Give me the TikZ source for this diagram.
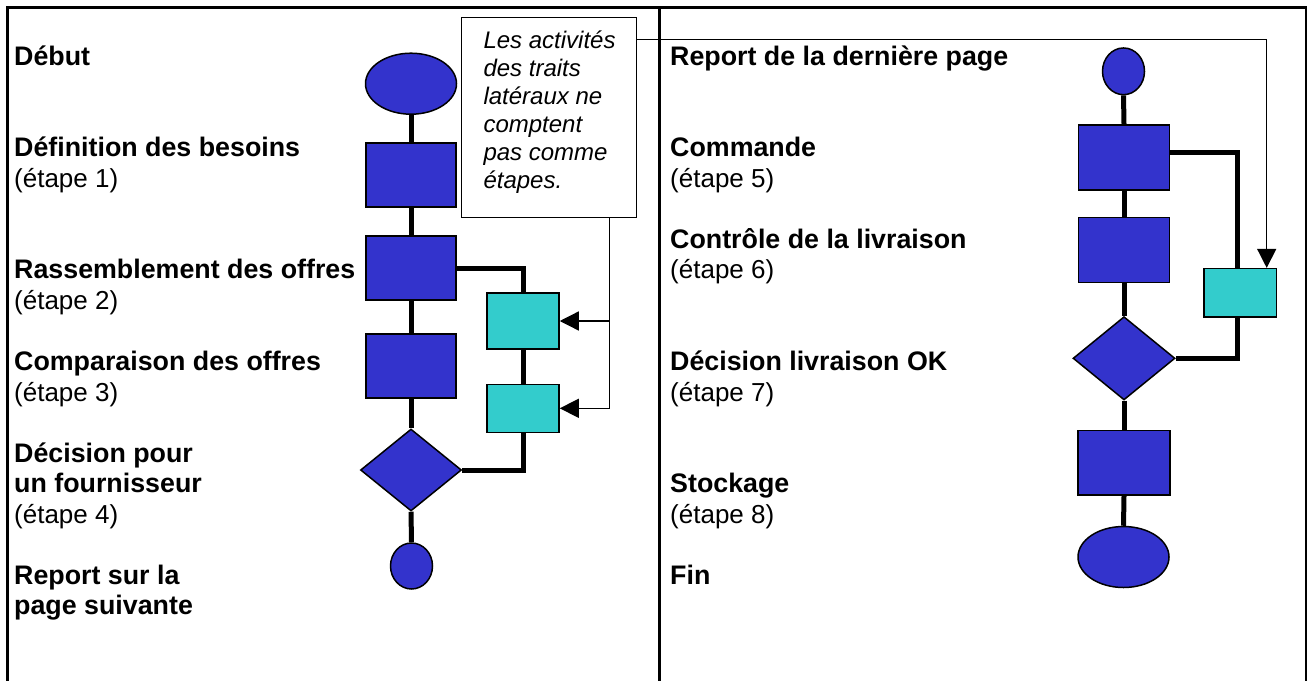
\documentclass[tikz,border=0pt]{standalone}
\usepackage{fontspec}
\setmainfont{Liberation Sans}
\usetikzlibrary{shapes.geometric,arrows.meta,calc}
\definecolor{stepblue}{RGB}{51,51,204}
\definecolor{sidecyan}{RGB}{51,204,204}
\begin{document}
\begin{tikzpicture}[x=1pt,y=-1pt,
  frameline/.style={line width=2.5pt},
  stepbox/.style={draw, line width=1.5pt, fill=stepblue, rectangle, inner sep=0pt},
  sidebox/.style={draw, line width=1.5pt, fill=sidecyan, rectangle, inner sep=0pt},
  terminal/.style={draw, line width=1.5pt, fill=stepblue, ellipse, inner sep=0pt},
  decision/.style={draw, line width=1.5pt, fill=stepblue, diamond, inner sep=0pt},
  flow/.style={line width=5pt},
  noteline/.style={line width=1.3pt, -{Triangle[length=19pt,width=19pt]}},
  labeltitle/.style={anchor=base west, inner sep=0pt, font=\fontsize{26.8}{30}\selectfont\bfseries},
  labelsub/.style={anchor=base west, inner sep=0pt, font=\fontsize{26}{30}\selectfont},
  notetext/.style={anchor=base west, inner sep=0pt, font=\fontsize{24}{28}\selectfont\itshape},
]
\useasboundingbox (0,0) rectangle (1313,680);
\fill[white] (0,0) rectangle (1313,680);

% frame
\draw[frameline] (7.5,690) -- (7.5,7.5) -- (1306,7.5) -- (1306,690);
\draw[frameline] (659.5,7.5) -- (659.5,690);

% left chain
\node[terminal, minimum width=91pt, minimum height=61pt] (s1) at (411,83.7) {};
\node[stepbox, minimum width=90pt, minimum height=64pt] (r1) at (411,175) {};
\node[stepbox, minimum width=90pt, minimum height=64pt] (r2) at (411,268) {};
\node[stepbox, minimum width=90pt, minimum height=64pt] (r3) at (411,366) {};
\node[decision, minimum width=101pt, minimum height=82pt] (d1) at (411,470) {};
\node[terminal, minimum width=42pt, minimum height=46pt] (e1) at (411.5,566) {};
\node[sidebox, minimum width=72pt, minimum height=56pt] (c1) at (523,321) {};
\node[sidebox, minimum width=72pt, minimum height=48pt] (c2) at (523,408.3) {};

% note
\node[draw, line width=1.5pt, fill=white, rectangle, inner sep=0pt,
      minimum width=175pt, minimum height=200.4pt] (note) at (549.2,117.5) {};
\node[notetext] (n1) at (483.3,48.8) {Les activités};
\node[notetext] (n2) at (483.3,76.7) {des traits};
\node[notetext] (n3) at (483.3,104.6) {latéraux ne};
\node[notetext] (n4) at (483.3,132.5) {comptent};
\node[notetext] (n5) at (483.3,160.4) {pas comme};
\node[notetext] (n6) at (483.3,188.3) {étapes.};

% right chain
\node[terminal, minimum width=42pt, minimum height=46.7pt] (s2) at (1123.5,71.3) {};
\node[stepbox, minimum width=91pt, minimum height=65pt] (r5) at (1124,157.7) {};
\node[stepbox, minimum width=91pt, minimum height=64.6pt] (r6) at (1124,250) {};
\node[decision, minimum width=102pt, minimum height=83.3pt] (d2) at (1124,358.3) {};
\node[stepbox, minimum width=92pt, minimum height=64.3pt] (r7) at (1124,462.8) {};
\node[terminal, minimum width=91pt, minimum height=61pt] (e2) at (1123.5,557) {};
\node[sidebox, minimum width=72.7pt, minimum height=48.3pt] (c3) at (1240.3,292.8) {};

% left connectors
\draw[flow] (s1.south) -- (r1.north);
\draw[flow] (r1.south) -- (r2.north);
\draw[flow] (r2.south) -- (r3.north);
\draw[flow] (r3.south) -- (d1.north);
\draw[flow] (d1.south) -- (e1.north);
\draw[flow] (r2.east) -| (c1.north);
\draw[flow] (c1.south) -- (c2.north);
\draw[flow] (c2.south) |- (d1.east);

% right connectors
\draw[flow] (s2.south) -- (r5.north);
\draw[flow] (r5.south) -- (r6.north);
\draw[flow] (r6.south) -- (d2.north);
\draw[flow] (d2.south) -- (r7.north);
\draw[flow] (r7.south) -- (e2.north);
\draw[flow] ([yshift=5.4pt]r5.east) -| ([xshift=-2.5pt]c3.north);
\draw[flow] ([xshift=-2.5pt]c3.south) |- (d2.east);

% note connectors
\coordinate (tapL) at (609.3,0);
\draw[noteline] (tapL |- note.south) |- (c2.east);
\draw[noteline] (tapL |- c1.east) -- (c1.east);
\coordinate (tapR) at (1266.7,39.3);
\draw[noteline] (note.east |- tapR) -- (tapR) -- (tapR |- c3.north);

% left labels
\node[labeltitle] (t0) at (14,65) {Début};
\node[labeltitle] (t1) at (14,156.65) {Définition des besoins};
\node[labelsub]   (u1) at (14,187.2) {(étape 1)};
\node[labeltitle] (t2) at (14,278.85) {Rassemblement des offres};
\node[labelsub]   (u2) at (14,309.4) {(étape 2)};
\node[labeltitle] (t3) at (14,370.5) {Comparaison des offres};
\node[labelsub]   (u3) at (14,401.05) {(étape 3)};
\node[labeltitle] (t4a) at (14,462.15) {Décision pour};
\node[labeltitle] (t4b) at (14,492.7) {un fournisseur};
\node[labelsub]   (u4) at (14,523.25) {(étape 4)};
\node[labeltitle] (t9a) at (14,584.35) {Report sur la};
\node[labeltitle] (t9b) at (14,614.9) {page suivante};

% right labels
\node[labeltitle] (v0) at (670,65) {Report de la dernière page};
\node[labeltitle] (v5) at (670,156.65) {Commande};
\node[labelsub]   (w5) at (670,187.2) {(étape 5)};
\node[labeltitle] (v6) at (670,248.3) {Contrôle de la livraison};
\node[labelsub]   (w6) at (670,278.85) {(étape 6)};
\node[labeltitle] (v7) at (670,370.5) {Décision livraison OK};
\node[labelsub]   (w7) at (670,401.05) {(étape 7)};
\node[labeltitle] (v8) at (670,492.7) {Stockage};
\node[labelsub]   (w8) at (670,523.25) {(étape 8)};
\node[labeltitle] (v9) at (670,584.35) {Fin};
\end{tikzpicture}
\end{document}
